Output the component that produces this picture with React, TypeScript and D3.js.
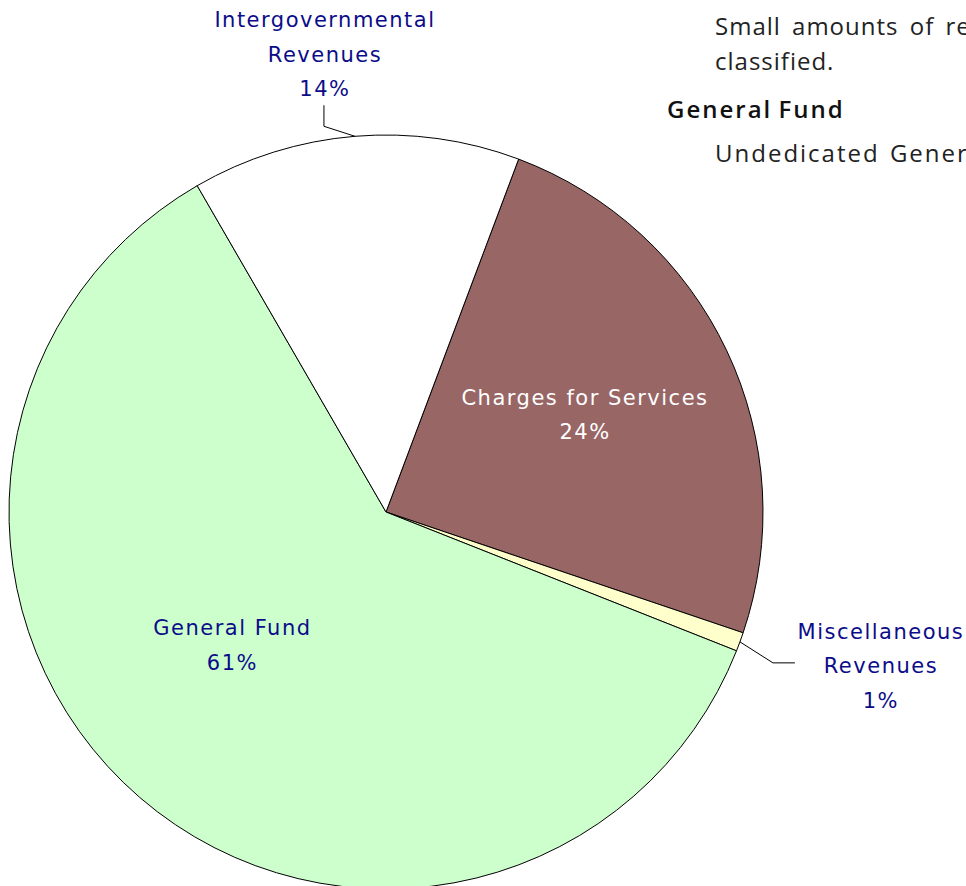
import React from "react";
import * as d3 from "d3";

const categories = ["Charges for Services", "Miscellaneous Revenues", "General Fund", "Intergovernmental Revenues"];
const values = [24.47, 0.81, 60.65, 14.07];
const percentLabels = ["24%", "1%", "61%", "14%"];
const labelLines = [["Charges for Services"], ["Miscellaneous", "Revenues"], ["General Fund"], ["Intergovernmental", "Revenues"]];
const colors = ["#996666", "#ffffcc", "#ccffcc", "#ffffff"];
const textColors = ["#ffffff", "#0c0c8a", "#0c0c8a", "#0c0c8a"];

const W = 966;
const H = 886;
const cx = 386;
const cy = 512;
const R = 377;
const START = (20.6 * Math.PI) / 180;
const LABEL_FONT = "'DejaVu Sans', sans-serif";
const LINE_H = 34.5;

export default function App() {
  const pie = d3.pie<number>().sort(null).value((d) => d).startAngle(START).endAngle(START + 2 * Math.PI);
  const arcs = pie(values);
  const arc = d3.arc<d3.PieArcDatum<number>>().innerRadius(0).outerRadius(R);
  const pt = (a: number, r: number) => [Math.sin(a) * r, -Math.cos(a) * r];

  const labelNodes: React.ReactNode[] = [];
  const leaders: React.ReactNode[] = [];
  arcs.forEach((a, i) => {
    const mid = (a.startAngle + a.endAngle) / 2;
    const lines = [...labelLines[i], percentLabels[i]];
    let x = 0, firstBase = 0;
    if (i === 0) {
      const [px, py] = pt(mid, 0.59 * R);
      x = px - 2; firstBase = py - 12;
    } else if (i === 2) {
      const [px, py] = pt(mid + 0.13, 0.55 * R);
      x = px + 1; firstBase = py - 15;
    } else if (i === 1) {
      const [ax, ay] = pt(mid, R);
      const bx = ax + 33, by = ay + 21;
      leaders.push(<polyline key={"l" + i} points={`${ax},${ay} ${bx},${by} ${bx + 22},${by}`} fill="none" stroke="#000" strokeWidth={1} />);
      x = bx + 108; firstBase = by - 24;
    } else {
      const [ax, ay] = pt(mid, R);
      const bx = ax - 31, by = ay - 10;
      leaders.push(<polyline key={"l" + i} points={`${ax},${ay} ${bx},${by} ${bx},${by - 21}`} fill="none" stroke="#000" strokeWidth={1} />);
      x = bx + 1; firstBase = by - 21 - 2 * LINE_H - 9;
    }
    labelNodes.push(
      <text key={"t" + i} x={x} fill={textColors[i]} fontFamily={LABEL_FONT} fontSize={21} letterSpacing={1.5} textAnchor="middle">
        {lines.map((s, j) => (
          <tspan key={j} x={x} y={firstBase + j * LINE_H}>{s}</tspan>
        ))}
      </text>
    );
  });

  return (
    <svg width={W} height={H} style={{ position: "absolute", left: 0, top: 0, background: "#fff" }}>
      <g transform={`translate(${cx},${cy})`}>
        {arcs.map((a, i) => (
          <path key={i} d={arc(a) || ""} fill={colors[i]} stroke="#000" strokeWidth={1} />
        ))}
        {leaders}
        {labelNodes}
      </g>
      <g fontFamily="'Open Sans', sans-serif" fill="#222" fontSize={24} letterSpacing={1} wordSpacing={4}>
        <text x={715} y={35}>Small amounts of revenue not otherwise</text>
        <text x={715} y={70}>classified.</text>
        <text x={667} y={118} fontWeight={600} fill="#111" letterSpacing={2} wordSpacing={-2}>General Fund</text>
        <text x={715} y={162} letterSpacing={2} wordSpacing={2}>Undedicated General Fund revenue</text>
      </g>
    </svg>
  );
}
